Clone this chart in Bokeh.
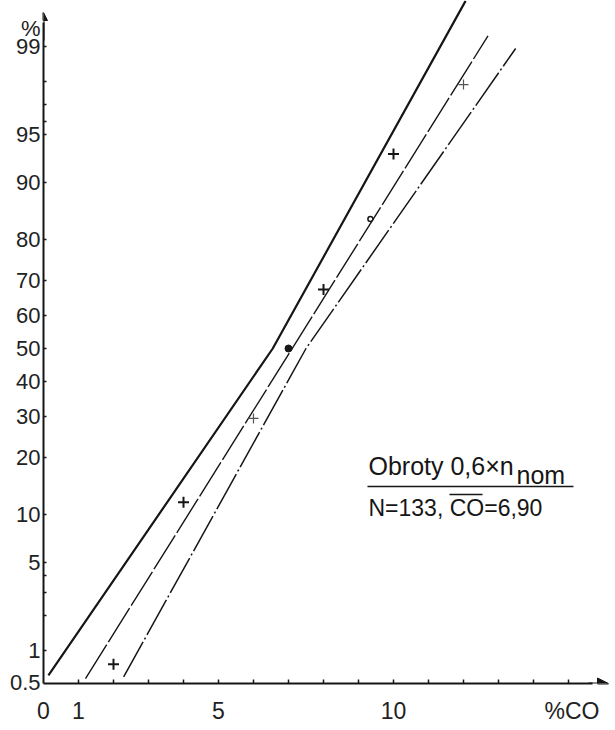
from statistics import NormalDist
from bokeh.plotting import figure
from bokeh.models import Range1d, FixedTicker, Arrow, NormalHead, Label
from bokeh.embed import file_html
from bokeh.resources import INLINE

# ---------------- data ----------------
co_points = [2, 4, 6, 8, 10, 12]                   # % CO
pct_points = [0.75, 11.8, 29.5, 67.5, 93.3, 97.9]  # cumulative %
bold_flags = [True, True, False, True, True, False]

mean_co = [7.0]
mean_pct = [50.0]
sigma_co = [9.34]
sigma_pct = [84.1]

fit_co = [1.2, 12.7]
fit_pct = [0.55, 99.2]
upper_band_co = [0.14, 6.55, 12.06]
upper_band_pct = [0.59, 50.0, 99.63]
lower_band_co = [2.29, 7.5, 13.49]
lower_band_pct = [0.57, 50.0, 98.96]

y_tick_pct = [0.5, 1, 5, 10, 20, 30, 40, 50, 60, 70, 80, 90, 95, 99]
y_tick_labels = ["0.5", "1", "5", "10", "20", "30", "40", "50", "60", "70", "80", "90", "95", "99"]
y_minor_pct = [1, 2, 3, 4, 5, 10, 20, 30, 40, 50, 60, 70, 80, 90, 95, 96, 97, 98, 99]
y_title = "%"
y_title_pct = 99.31          # where the "%" sign sits on the scale

x_tick_values = [0, 1, 5, 10]
x_tick_labels = ["0", "1", "5", "10"]
x_minor = list(range(1, 16))
x_title = "%CO"
x_title_at = 15.1

title_text = "Obroty 0,6×n"
title_sub = "nom"
stats_text = "N=133, CO=6,90"

# ---------------- scales ----------------
ND = NormalDist()
def probit(p):
    return ND.inv_cdf(p / 100.0)

W, H = 615, 730
LEFT, BOTTOM = 43, 47
FRAME_H = H - BOTTOM
XPX = 35.0          # px per % CO
ZPX = 129.8         # px per probit unit
Y50 = 348           # px row of 50 %

def xd(px):
    return (px - LEFT) / XPX

def yd(py):
    return (Y50 - py) / ZPX

x_range = Range1d(0, xd(W))
y_range = Range1d(yd(FRAME_H), yd(0))

p = figure(width=W, height=H, x_range=x_range, y_range=y_range,
           output_backend="svg", toolbar_location=None,
           min_border_left=LEFT, min_border_bottom=BOTTOM,
           min_border_top=0, min_border_right=0)
p.grid.visible = False
p.outline_line_color = None
p.background_fill_color = "white"
p.border_fill_color = "white"

FONT = "Liberation Sans"
INK = "#161616"
TXT = "#222222"

# y axis (probability scale)
yz = [probit(v) for v in y_tick_pct] + [probit(y_title_pct)]
ylab = y_tick_labels + [y_title]
p.yaxis.ticker = FixedTicker(ticks=yz, minor_ticks=[probit(v) for v in y_minor_pct])
p.yaxis.major_label_overrides = {z: lab for z, lab in zip(yz, ylab)}
p.yaxis.major_tick_in = 0
p.yaxis.major_tick_out = 0
p.yaxis.minor_tick_in = 3
p.yaxis.minor_tick_out = 0
p.yaxis.axis_line_width = 2
p.yaxis.axis_line_color = INK
p.yaxis.minor_tick_line_color = INK
p.yaxis.minor_tick_line_width = 1.5
p.yaxis.major_label_text_font = FONT
p.yaxis.major_label_text_font_size = "22px"
p.yaxis.major_label_text_color = TXT
p.yaxis.major_label_standoff = 3
p.yaxis.bounds = (yd(FRAME_H), yd(22))

# x axis
xt = x_tick_values + [x_title_at]
xl = x_tick_labels + [x_title]
p.xaxis.ticker = FixedTicker(ticks=xt, minor_ticks=x_minor)
p.xaxis.major_label_overrides = {t: lab for t, lab in zip(xt, xl)}
p.xaxis.major_tick_in = 0
p.xaxis.major_tick_out = 0
p.xaxis.minor_tick_in = 4
p.xaxis.minor_tick_out = 0
p.xaxis.axis_line_width = 2
p.xaxis.axis_line_color = INK
p.xaxis.minor_tick_line_color = INK
p.xaxis.minor_tick_line_width = 1.5
p.xaxis.major_label_text_font = FONT
p.xaxis.major_label_text_font_size = "23px"
p.xaxis.major_label_text_color = TXT
p.xaxis.major_label_standoff = 14
p.xaxis.bounds = (0, xd(592))

# axis arrows
p.add_layout(Arrow(end=NormalHead(size=11, fill_color=INK, line_color=INK),
                   x_start=xd(588), y_start=yd(FRAME_H), x_end=xd(608), y_end=yd(FRAME_H),
                   line_color=INK, line_width=2))
p.add_layout(Arrow(end=NormalHead(size=8, fill_color=INK, line_color=INK),
                   x_start=0, y_start=yd(40), x_end=0, y_end=yd(12),
                   line_color=INK, line_width=2))

# lines
p.line(upper_band_co, [probit(v) for v in upper_band_pct], line_color=INK, line_width=2.2)
p.line(fit_co, [probit(v) for v in fit_pct], line_color=INK, line_width=1.4, line_dash="40 3")
p.line(lower_band_co, [probit(v) for v in lower_band_pct], line_color=INK, line_width=1.5,
       line_dash="40 3 2 3")

# points
bx = [c for c, b in zip(co_points, bold_flags) if b]
by = [probit(v) for v, b in zip(pct_points, bold_flags) if b]
fx = [c for c, b in zip(co_points, bold_flags) if not b]
fy = [probit(v) for v, b in zip(pct_points, bold_flags) if not b]
p.scatter(bx, by, marker="cross", size=11, line_width=2, line_color=INK)
p.scatter(fx, fy, marker="cross", size=10, line_width=1.2, line_color="#555555")
p.scatter(mean_co, [probit(v) for v in mean_pct], marker="circle", size=7,
          fill_color=INK, line_color=INK)
p.scatter(sigma_co, [probit(v) for v in sigma_pct], marker="circle", size=5,
          fill_color="white", line_color=INK, line_width=1.5)

# annotation box
p.add_layout(Label(x=xd(368), y=yd(465), text=title_text, text_font=FONT,
                   text_font_size="25px", text_color=INK, text_baseline="middle"))
p.add_layout(Label(x=xd(516), y=yd(474), text=title_sub, text_font=FONT,
                   text_font_size="25px", text_color=INK, text_baseline="middle"))
p.segment(x0=[xd(367)], y0=[yd(486)], x1=[xd(573)], y1=[yd(486)], line_color=INK, line_width=1.6)
p.add_layout(Label(x=xd(368), y=yd(507), text=stats_text, text_font=FONT,
                   text_font_size="23px", text_color=INK, text_baseline="middle"))
p.segment(x0=[xd(449)], y0=[yd(494)], x1=[xd(482)], y1=[yd(494)], line_color=INK, line_width=1.5)

open("out.html", "w").write(file_html(p, INLINE))
